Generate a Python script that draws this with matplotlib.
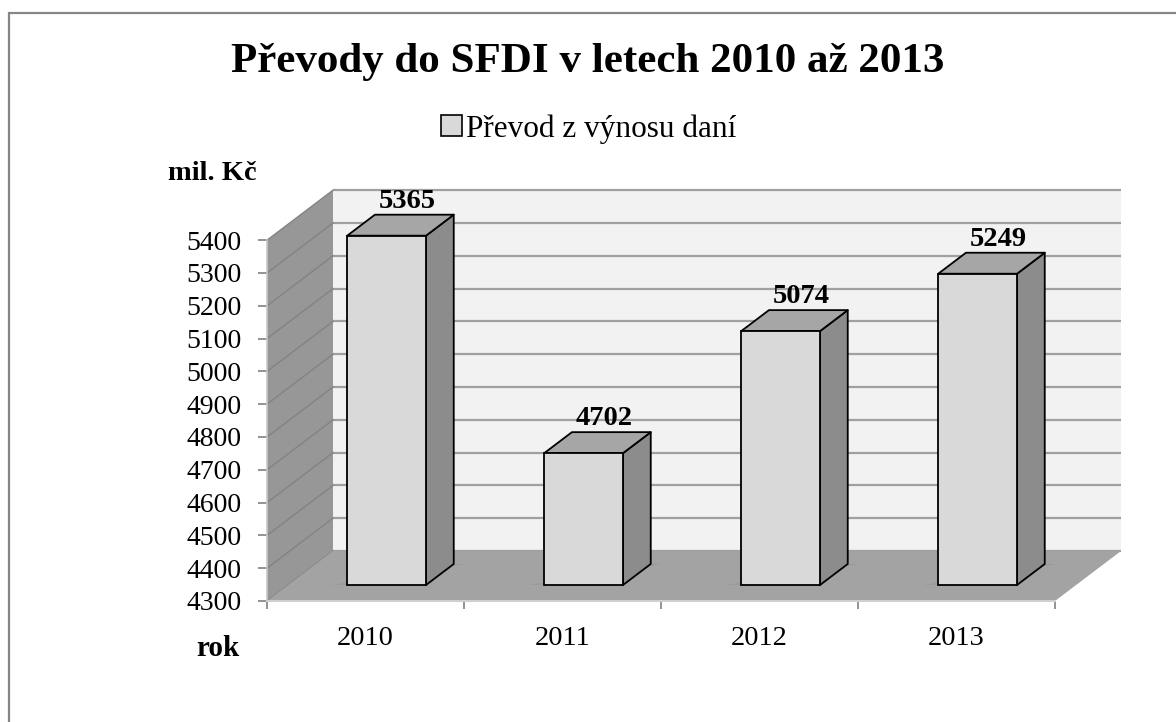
import matplotlib
matplotlib.use("Agg")
import matplotlib.pyplot as plt
from matplotlib.patches import Polygon, Rectangle, Patch

# ---- data ----
years = ["2010", "2011", "2012", "2013"]
values = [5365, 4702, 5074, 5249]
y_ticks = list(range(4300, 5401, 100))
title = "Převody do SFDI v letech 2010 až 2013"
series_name = "Převod z výnosu daní"
y_unit = "mil. Kč"
x_unit = "rok"

plt.rcParams['font.family'] = ['Liberation Serif', 'DejaVu Serif']

W, H = 1176, 722
fig = plt.figure(figsize=(W / 100, H / 100), dpi=100)

# plot geometry (pixels)
x0_px, y0_px = 267, 601          # front-left-bottom corner (from top)
cat_px = 197                     # pixels per category
val_px = 0.328                   # pixels per value unit
ymin = y_ticks[0]
ax = fig.add_axes([x0_px / W, (H - y0_px) / H, (W - x0_px) / W, y0_px / H])
ax.set_xlim(0, (W - x0_px) / cat_px)
ax.set_ylim(ymin, ymin + y0_px / val_px)
ax.patch.set_alpha(0)

# oblique depth offsets (data units)
DX = 66 / cat_px
DY = 50 / val_px
ncat = len(years)
ymax = y_ticks[-1]

wall_col = "#f2f2f2"
side_wall_col = "#979797"
floor_col = "#a3a3a3"
grid_col = "#a0a0a0"

# back wall
ax.add_patch(Rectangle((DX, ymin + DY), ncat, ymax - ymin, facecolor=wall_col,
                       edgecolor="none", zorder=1))
for v in y_ticks:
    ax.plot([DX, ncat + DX], [v + DY, v + DY], color=grid_col, lw=1.6, zorder=2,
            solid_capstyle="butt")
# left wall
ax.add_patch(Polygon([(0, ymin), (DX, ymin + DY), (DX, ymax + DY), (0, ymax)],
                     closed=True, facecolor=side_wall_col, edgecolor="none", zorder=3))
for v in y_ticks:
    ax.plot([0, DX], [v, v + DY], color="#838383", lw=1.0, zorder=4)
# floor
ax.add_patch(Polygon([(0, ymin), (ncat, ymin), (ncat + DX, ymin + DY), (DX, ymin + DY)],
                     closed=True, facecolor=floor_col, edgecolor="none", zorder=5))

# bars
d1, d2 = 0.32, 0.74
bw = 0.40
dd = d2 - d1
front_col, side_col, top_col = "#d9d9d9", "#8c8c8c", "#a6a6a6"
for i, v in enumerate(values):
    cx = i + 0.5 + d1 * DX
    bot = ymin + d1 * DY
    top = v + d1 * DY
    xl, xr = cx - bw / 2, cx + bw / 2
    # soft shadow on floor
    ax.add_patch(Polygon([(xl - 0.08, bot), (xl, bot), (xl + dd * DX, bot + dd * DY),
                          (xr + dd * DX + 0.06, bot + dd * DY)],
                         closed=True, facecolor="#8a8a8a", edgecolor="none", alpha=0.35, zorder=6))
    ax.bar(cx, v - ymin, bottom=bot, width=bw, color=front_col, edgecolor="black",
           linewidth=1.3, zorder=8)
    ax.add_patch(Polygon([(xr, bot), (xr + dd * DX, bot + dd * DY),
                          (xr + dd * DX, top + dd * DY), (xr, top)],
                         closed=True, facecolor=side_col, edgecolor="black", lw=1.3,
                         joinstyle="round", zorder=7))
    ax.add_patch(Polygon([(xl, top), (xr, top), (xr + dd * DX, top + dd * DY),
                          (xl + dd * DX, top + dd * DY)],
                         closed=True, facecolor=top_col, edgecolor="black", lw=1.3,
                         joinstyle="round", zorder=7))
    ax.annotate(str(v), (cx + 0.75 * dd * DX, top + dd * DY), xytext=(0, 5),
                textcoords="offset points", ha="center", va="baseline",
                fontsize=20.5, fontweight="bold", zorder=10)

# axes
for s in ["top", "right"]:
    ax.spines[s].set_visible(False)
ax.spines["left"].set_bounds(ymin, ymax)
ax.spines["bottom"].set_bounds(0, ncat)
ax.spines["left"].set_color("#c8c8c8")
ax.spines["bottom"].set_color("#d0d0d0")
ax.spines["left"].set_linewidth(1.2)
ax.spines["bottom"].set_linewidth(1.5)
ax.spines["left"].set_zorder(9)
ax.spines["bottom"].set_zorder(9)
ax.set_yticks(y_ticks)
ax.set_yticklabels([str(t) for t in y_ticks])
ax.tick_params(axis="y", length=6.5, width=1.2, color="#808080", pad=12,
               labelsize=20, direction="out")
ax.set_xticks(range(ncat + 1))
ax.set_xticklabels([])
ax.set_xticks([i + 0.5 for i in range(ncat)], minor=True)
ax.set_xticklabels(years, minor=True)
ax.tick_params(axis="x", which="major", length=6, width=1.2, color="#808080", direction="out")
ax.tick_params(axis="x", which="minor", length=0, pad=18, labelsize=20.5)

# texts
fig.text(588 / W, 1 - 62 / H, title, ha="center", va="center", fontsize=31,
         fontweight="bold")
fig.text(212 / W, 1 - 174 / H, y_unit, ha="center", va="center", fontsize=20.5,
         fontweight="bold")
fig.text(218 / W, 1 - 648 / H, x_unit, ha="center", va="center", fontsize=21,
         fontweight="bold")

handle = Patch(facecolor=front_col, edgecolor="black", linewidth=1.2)
fig.legend([handle], [series_name], loc="center", bbox_to_anchor=(589 / W, 1 - 129 / H),
           frameon=False, fontsize=22.5, handlelength=0.65, handleheight=0.65,
           handletextpad=0.15, borderpad=0)

# outer border (partially cut off at right and bottom)
fig.patches.append(Rectangle((9 / W, -0.1), 1.2, 1 - 13 / H + 0.1, transform=fig.transFigure,
                             facecolor="none", edgecolor="#868686", linewidth=1.6))

fig.savefig("out.png", dpi=100)
